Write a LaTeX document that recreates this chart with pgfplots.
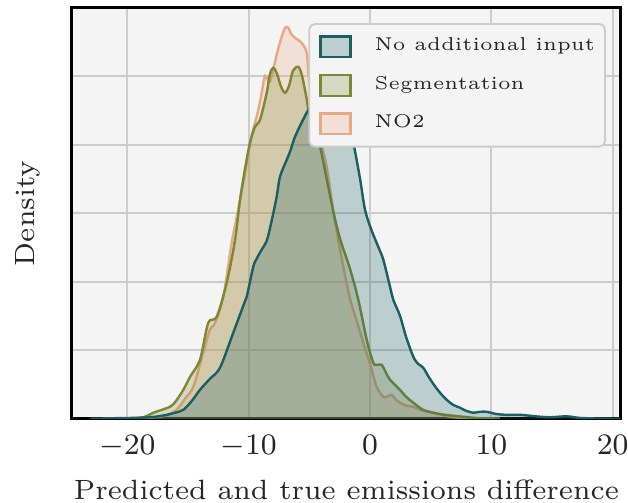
\documentclass[border=0pt]{standalone}
\usepackage{pgfplots}
\pgfplotsset{compat=1.18}
\definecolor{cteal}{RGB}{25,95,100}
\definecolor{colive}{RGB}{122,137,50}
\definecolor{corange}{RGB}{235,167,128}
\definecolor{bg}{RGB}{244,244,244}
\definecolor{gridgray}{RGB}{204,204,204}
\definecolor{txt}{RGB}{38,38,38}
\begin{document}
\begin{tikzpicture}
\begin{axis}[
  scale only axis, width=147.6pt, height=110.5pt,
  xmin=-24.56, xmax=20.68, ymin=0, ymax=6,
  xtick={-20,-10,0,10,20}, ytick={0,1,2,3,4,5,6}, yticklabels={},
  grid=major, major grid style={color=gridgray, line width=0.55pt},
  axis background/.style={fill=bg},
  axis line style={black, line width=0.8pt},
  tick style={draw=none},
  ticklabel style={font=\fontsize{8}{9}\selectfont, text=txt},
  xticklabel style={yshift=-0.85pt},
  xlabel={Predicted and true emissions difference},
  ylabel={Density},
  label style={font=\fontsize{7.49}{9}\selectfont, text=txt},
  xlabel style={at={(axis description cs:0.5,-0.116)}, anchor=north},
  ylabel style={at={(axis description cs:-0.0335,0.5)}, anchor=south},
  reverse legend,
  legend cell align=left,
  legend image code/.code={\draw[#1, sharp corners] (0pt,-2.8pt) rectangle (8.06pt,2.8pt);},
  legend style={at={(axis description cs:0.9727,0.9628)}, anchor=north east,
    draw=gridgray, line width=0.5pt, rounded corners=1.5pt, fill=bg,
    font=\fontsize{5}{6}\selectfont, text=txt,
    nodes={inner sep=0pt},
    inner xsep=2.7pt, inner ysep=3pt, row sep=4.1pt,
    /tikz/every odd column/.append style={column sep=6.2pt}},
]
% NO2 (drawn first, under the others)
\addplot[smooth, draw=corange, fill=corange, fill opacity=0.25, line width=0.65pt] table {
x y
-19.78 0
-18.13 0.015
-16.89 0.044
-15.93 0.131
-15.25 0.292
-14.56 0.467
-13.74 0.964
-13.19 1.299
-12.77 1.401
-12.09 1.781
-11.40 2.569
-10.98 2.949
-10.38 3.504
-9.81 4.088
-9.34 4.409
-8.98 4.701
-8.65 5.007
-8.24 4.920
-7.69 5.314
-7.33 5.547
-7.00 5.708
-6.73 5.708
-6.51 5.620
-6.18 5.562
-5.63 5.489
-5.22 5.343
-5.07 5.036
-4.94 4.847
-4.53 4.453
-4.12 4.088
-3.57 3.679
-3.05 3.066
-2.64 2.628
-2.20 2.219
-1.65 1.752
-1.15 1.460
-0.55 1.109
0.00 0.803
0.55 0.467
1.10 0.321
1.40 0.321
1.79 0.350
2.14 0.277
2.47 0.234
2.97 0.190
3.57 0.175
4.12 0.131
5.22 0.088
6.59 0.029
8.24 0.007
10.71 0
};
\addlegendentry{NO2}
% Segmentation
\addplot[smooth, draw=colive, fill=colive, fill opacity=0.25, line width=0.65pt] table {
x y
-20.19 0
-19.51 0.007
-18.54 0.029
-17.86 0.088
-16.48 0.175
-15.98 0.263
-15.38 0.423
-14.83 0.613
-14.01 0.861
-13.33 1.401
-12.63 1.489
-11.81 1.985
-11.12 2.613
-10.71 3.197
-10.30 3.650
-9.89 4.029
-9.48 4.263
-9.06 4.365
-8.51 4.759
-8.24 5.036
-7.97 5.124
-7.66 5.036
-7.33 4.847
-7.00 4.759
-6.67 4.861
-6.35 5.080
-5.91 5.139
-5.60 5.007
-5.22 4.672
-5.08 4.511
-4.70 4.234
-4.12 3.971
-3.57 3.504
-3.02 3.022
-2.47 2.628
-1.65 2.190
-0.96 1.737
-0.27 1.153
0.27 0.818
0.58 0.788
0.96 0.788
1.32 0.672
1.65 0.569
2.47 0.423
2.97 0.321
3.57 0.234
4.37 0.131
5.22 0.088
6.18 0.058
7.42 0.034
9.06 0.007
10.71 0
};
\addlegendentry{Segmentation}
% No additional input
\addplot[smooth, draw=cteal, fill=cteal, fill opacity=0.25, line width=0.65pt] table {
x y
-23.07 0
-21.43 0.007
-18.95 0.015
-17.72 0.029
-16.75 0.058
-16.07 0.088
-15.38 0.131
-14.67 0.263
-14.01 0.423
-13.19 0.584
-12.36 0.745
-11.27 1.255
-10.44 1.650
-10.16 1.781
-9.62 2.219
-9.34 2.336
-8.98 2.453
-8.51 2.599
-8.16 2.847
-7.69 3.241
-7.42 3.533
-6.86 3.781
-6.59 3.898
-6.18 4.117
-5.60 4.336
-5.08 4.511
-4.53 4.642
-3.96 4.759
-3.30 4.832
-2.72 4.788
-2.14 4.555
-1.65 4.234
-1.32 3.985
-0.82 3.504
-0.41 3.051
0.08 2.774
0.68 2.511
1.10 2.321
1.65 1.927
1.92 1.737
2.47 1.504
2.97 1.197
3.57 0.905
3.96 0.803
4.39 0.745
4.78 0.628
5.27 0.496
5.77 0.380
6.32 0.277
6.84 0.204
7.42 0.161
7.91 0.117
8.51 0.088
9.06 0.102
9.64 0.102
10.30 0.073
11.12 0.058
12.36 0.058
13.60 0.036
14.83 0.022
16.21 0.036
17.31 0.012
18.95 0.003
20.60 0
};
\addlegendentry{No additional input}
\end{axis}
\pgfresetboundingbox
\path (current axis.south west) ++(-19.35pt,-22.6pt) rectangle ++(168.85pt,135.2pt);
\end{tikzpicture}
\end{document}
